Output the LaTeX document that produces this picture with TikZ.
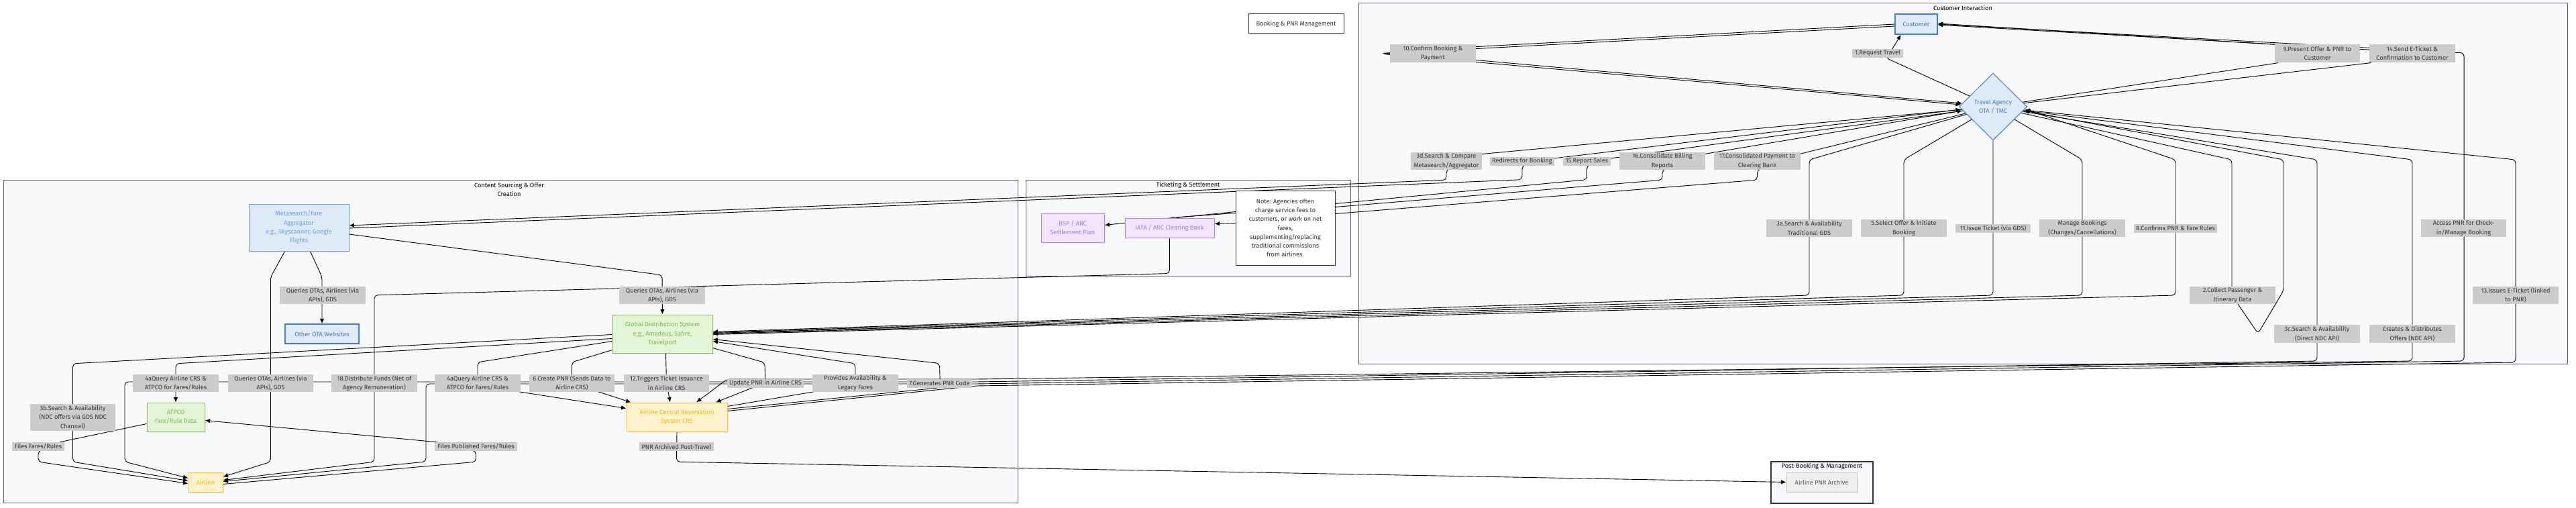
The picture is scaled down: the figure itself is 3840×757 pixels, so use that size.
\documentclass[tikz,border=0pt]{standalone}
\usepackage{fontspec}
\setmainfont{Fira Sans}
\usetikzlibrary{shapes.geometric,arrows.meta,calc,shadows}
\pgfdeclarelayer{clus}
\pgfdeclarelayer{edg}
\pgfsetlayers{clus,edg,main}
\definecolor{clfill}{HTML}{F8F9FB}
\definecolor{clline}{HTML}{5A5A6E}
\definecolor{lblfill}{HTML}{CCCCCC}
\definecolor{lbltext}{HTML}{333333}
\definecolor{bfill}{HTML}{DEEAF7}
\definecolor{bline}{HTML}{4C7CB8}
\definecolor{btext}{HTML}{4C7CB8}
\definecolor{mline}{HTML}{72A3E6}
\definecolor{mtext}{HTML}{6A9DE0}
\definecolor{gfill}{HTML}{E3F5D6}
\definecolor{gline}{HTML}{86C256}
\definecolor{gtext}{HTML}{7DB84C}
\definecolor{yfill}{HTML}{FFF2CC}
\definecolor{yline}{HTML}{FFC20E}
\definecolor{ytext}{HTML}{F5B700}
\definecolor{pfill}{HTML}{F1E4FD}
\definecolor{pline}{HTML}{B384EA}
\definecolor{ptext}{HTML}{A67BE6}
\definecolor{afill}{HTML}{EFEFEF}
\definecolor{aline}{HTML}{CCCCCC}
\definecolor{atext}{HTML}{555555}
\definecolor{dline}{HTML}{333344}
\newcommand\dgfont{\fontsize{9.2}{13.3}\selectfont}
\begin{document}
\begin{tikzpicture}[x=1pt,y=-1pt,font=\dgfont,
  nodebox/.style={draw, line width=1pt, inner sep=0pt, align=center,
    drop shadow={opacity=0.12, shadow xshift=1.5pt, shadow yshift=-1.5pt}},
  bluebox/.style={nodebox, fill=bfill, draw=bline, text=btext},
  metabox/.style={nodebox, fill=bfill, draw=mline, text=mtext},
  greenbox/.style={nodebox, fill=gfill, draw=gline, text=gtext},
  yellowbox/.style={nodebox, fill=yfill, draw=yline, text=ytext},
  purplebox/.style={nodebox, fill=pfill, draw=pline, text=ptext},
  archbox/.style={nodebox, fill=afill, draw=aline, text=atext},
  plainbox/.style={nodebox, fill=white, draw=dline, text=lbltext},
  lbl/.style={fill=lblfill, text=lbltext, inner sep=0pt, align=center},
  clusterbox/.style={fill=clfill, draw=clline, line width=1pt},
  ctitle/.style={text=black, align=center, inner sep=0pt},
  conn/.style={draw=black, line width=0.9pt, rounded corners=5pt},
  conna/.style={conn, -{Latex[length=7.5pt,width=6.5pt]}}]
\useasboundingbox (0,0) rectangle (3840,757);
\begin{pgfonlayer}{clus}
\fill[white] (0,0) rectangle (3840,757);
\draw[clusterbox] (5,268) rectangle (1517,749);
\draw[clusterbox] (1529,268) rectangle (2013,411);
\draw[clusterbox] (2025,5) rectangle (3827,542);
\draw[clusterbox, draw=dline, line width=1.2pt] (2640,688) rectangle (2792,750);
\end{pgfonlayer}
% cluster titles
\node[ctitle] (tCS) at (759,282.5) {Content Sourcing \& Offer\\Creation};
\node[ctitle] (tTS) at (1771,276) {Ticketing \& Settlement};
\node[ctitle] (tCI) at (2926,12) {Customer Interaction};
\node[ctitle] (tPB) at (2716,695) {Post-Booking \& Management};
% main nodes
\node[plainbox, minimum width=142, minimum height=29] (BPM) at (1932,35.5) {Booking \& PNR Management};
\node[bluebox, line width=1.5pt, minimum width=63, minimum height=30] (C) at (2856.5,36) {Customer};
\node[bluebox, diamond, aspect=1, minimum width=101, minimum height=100] (TA) at (2971,159) {Travel Agency\\OTA / TMC};
\node[metabox, minimum width=149, minimum height=70] (MS) at (445.5,339) {Metasearch/Fare\\Aggregator\\e.g., Skyscanner, Google\\Flights};
\node[bluebox, line width=1.5pt, minimum width=110, minimum height=29] (OTA) at (480,497.5) {Other OTA Websites};
\node[greenbox, minimum width=149, minimum height=57] (GDS) at (987.5,497.5) {Global Distribution System\\e.g., Amadeus, Sabre,\\Travelport};
\node[greenbox, minimum width=86, minimum height=43] (ATPCO) at (262,621.5) {ATPCO\\Fare/Rule Data};
\node[yellowbox, minimum width=51, minimum height=29] (AL) at (306.5,718.5) {Airline};
\node[yellowbox, minimum width=150, minimum height=43] (CRS) at (1009,621.5) {Airline Central Reservation\\System CRS};
\node[purplebox, minimum width=133, minimum height=29] (BANK) at (1743.5,339.5) {IATA / ARC Clearing Bank};
\node[purplebox, minimum width=94, minimum height=43] (BSP) at (1599,339.5) {BSP / ARC\\Settlement Plan};
\node[plainbox, minimum width=148, minimum height=111] (NOTE) at (1916,339.5) {Note: Agencies often\\charge service fees to\\customers, or work on net\\fares,\\supplementing/replacing\\traditional commissions\\from airlines.};
\node[archbox, minimum width=105, minimum height=29] (ARCH) at (2715.5,718.5) {Airline PNR Archive};
% edge labels: customer interaction
\node[lbl, minimum width=128, minimum height=27] (L10) at (2136,79.5) {10.Confirm Booking \&\\Payment};
\node[lbl, minimum width=76, minimum height=13] (L1) at (2799,79.5) {1.Request Travel};
\node[lbl, minimum width=127, minimum height=27] (L9) at (3454.5,79.5) {9.Present Offer \& PNR to\\Customer};
\node[lbl, minimum width=128, minimum height=27] (L14) at (3596,79.5) {14.Send E-Ticket \&\\Confirmation to Customer};
\node[lbl, minimum width=106, minimum height=26] (L3d) at (2156,240) {3d.Search \& Compare\\Metasearch/Aggregator};
\node[lbl, minimum width=96, minimum height=13] (LRed) at (2269,240) {Redirects for Booking};
\node[lbl, minimum width=71, minimum height=13] (L15) at (2365.5,240) {15.Report Sales};
\node[lbl, minimum width=128, minimum height=26] (L16) at (2478,240) {16.Consolidate Billing\\Reports};
\node[lbl, minimum width=129, minimum height=26] (L17) at (2619.5,240) {17.Consolidated Payment to\\Clearing Bank};
\node[lbl, minimum width=128, minimum height=26] (L3a) at (2697,340) {3a.Search \& Availability\\Traditional GDS};
\node[lbl, minimum width=128, minimum height=26] (L5) at (2838,340) {5.Select Offer \& Initiate\\Booking};
\node[lbl, minimum width=112, minimum height=13] (L11) at (2971,340) {11.Issue Ticket (via GDS)};
\node[lbl, minimum width=128, minimum height=26] (LMan) at (3104,340) {Manage Bookings\\(Changes/Cancellations)};
\node[lbl, minimum width=124, minimum height=13] (L8) at (3243,340) {8.Confirms PNR \& Fare Rules};
\node[lbl, minimum width=128, minimum height=26] (L2) at (3328,440) {2.Collect Passenger \&\\Itinerary Data};
\node[lbl, minimum width=128, minimum height=27] (L3c) at (3454,497.5) {3c.Search \& Availability\\(Direct NDC API)};
\node[lbl, minimum width=128, minimum height=27] (LCre) at (3596,497.5) {Creates \& Distributes\\Offers (NDC API)};
\node[lbl, minimum width=127, minimum height=26] (LAcc) at (3672.5,340) {Access PNR for Check-\\in/Manage Booking};
\node[lbl, minimum width=128, minimum height=26] (L13) at (3750,440) {13.Issues E-Ticket (linked\\to PNR)};
% edge labels: content sourcing
\node[lbl, minimum width=128, minimum height=26] (LQ1) at (481,440) {Queries OTAs, Airlines (via\\APIs), GDS};
\node[lbl, minimum width=128, minimum height=26] (LQ2) at (987,440) {Queries OTAs, Airlines (via\\APIs), GDS};
\node[lbl, minimum width=127, minimum height=26] (LQ3) at (403.5,571) {Queries OTAs, Airlines (via\\APIs), GDS};
\node[lbl, minimum width=128, minimum height=26] (L4a1) at (262,571) {4aQuery Airline CRS \&\\ATPCO for Fares/Rules};
\node[lbl, minimum width=128, minimum height=26] (L18) at (558,571) {18.Distribute Funds (Net of\\Agency Remuneration)};
\node[lbl, minimum width=128, minimum height=26] (L4a2) at (712,571) {4aQuery Airline CRS \&\\ATPCO for Fares/Rules};
\node[lbl, minimum width=127, minimum height=26] (L6) at (852.5,571) {6.Create PNR (Sends Data to\\Airline CRS)};
\node[lbl, minimum width=127, minimum height=26] (L12) at (993.5,571) {12.Triggers Ticket Issuance\\in Airline CRS};
\node[lbl, minimum width=114, minimum height=13] (LUpd) at (1141,571) {Update PNR in Airline CRS};
\node[lbl, minimum width=128, minimum height=26] (LProv) at (1275,571) {Provides Availability \&\\Legacy Fares};
\node[lbl, minimum width=97, minimum height=13] (L7) at (1400.5,571) {7.Generates PNR Code};
\node[lbl, minimum width=127, minimum height=40] (L3b) at (108.5,622) {3b.Search \& Availability\\(NDC offers via GDS NDC\\Channel)};
\node[lbl, minimum width=78, minimum height=13] (LFF) at (57,665.5) {Files Fares/Rules};
\node[lbl, minimum width=123, minimum height=13] (LFP) at (709.5,665.5) {Files Published Fares/Rules};
\node[lbl, minimum width=111, minimum height=13] (LPNR) at (1008.5,665.5) {PNR Archived Post-Travel};
% connectors
\begin{pgfonlayer}{edg}
% customer
\draw[conna] (TA) -- ($(L1.south)+(12,0)$) -- ($(L1.north)+(22,0)$) -- ($(C.south)+(-23,0)$);
\draw[conna] (C.west) -- ($(L10.north east)+(-4,4)$) -- ($(L10.west)+(-12,0)$) -- ($(L10.south east)+(-4,-4)$) -- ($(TA.west)+(5,-5)$);
\draw[conna] ($(C.west)+(0,3)$) -- ($(L10.north east)+(-4,7)$) -- ($(L10.west)+(-10,1)$) -- ($(L10.south east)+(-4,-1)$) -- ($(TA.west)+(3,-3)$);
\draw[conna] (TA) -- ($(L9.south west)+(8,0)$) -- ($(L9.north west)+(8,1)$) -- ($(C.east)+(0,-1)$);
\draw[conna] (TA) -- ($(L14.south west)+(6,0)$) -- ($(L14.west)+(6,-5)$) -- ($(C.east)+(0,1)$);
\draw[conna] (C.east) -- ($(L14.east)+(0,-1)$) -- (3673,78.5) -- (3673,538) -- (1455,572) -- (635,572) -- (635,688) -- ($(AL.east)+(0,-1)$);
% to metasearch and settlement
\draw[conna] (TA) -- ($(L3d.north east)+(-3,3)$) -- (L3d.south) -- ($(L3d.south)+(0,15)$) -- ($(MS.east)+(0,-3)$);
\draw[conna] ($(MS.east)+(0,1)$) -- ($(LRed.south)+(0,21)$) -- (LRed.south) -- ($(LRed.north east)+(-3,3)$) -- ($(TA.west)+(3,4)$);
\draw[conna] (TA) -- ($(L15.north east)+(-3,3)$) -- (L15.south) -- ($(L15.south)+(0,21)$) -- ($(NOTE.east)+(0,-36)$) -- ($(NOTE.west)+(0,-22)$) -- ($(BANK.north)+(14,-1)$) -- ($(BSP.east)+(0,-4)$);
\draw[conna] ($(BANK.north)+(10,0)$) -- ($(NOTE.west)+(0,-24)$) -- ($(NOTE.east)+(0,-31)$) -- ($(L16.south)+(0,15)$) -- (L16.south) -- ($(L16.north east)+(-3,3)$) -- ($(TA.west)+(5,6)$);
\draw[conna] (TA) -- ($(L17.north east)+(-3,3)$) -- (L17.south) -- ($(L17.south)+(0,15)$) -- ($(NOTE.east)+(0,-21)$) -- ($(NOTE.west)+(0,-7)$) -- ($(BANK.east)+(0,-6)$);
% to GDS
\draw[conna] (TA) -- (2697,238) -- (2697,440) -- ($(GDS.east)+(0,-3)$);
\draw[conna] (TA) -- (2838,238) -- (2838,440) -- ($(GDS.east)+(0,-2)$);
\draw[conna] (TA.south) -- (2971,440) -- ($(GDS.east)+(0,-1)$);
\draw[conna] (TA) -- (3104,238) -- (3104,440) -- (GDS.east);
\draw[conna] ($(GDS.east)+(0,1)$) -- (3243,440) -- (3243,238) -- ($(TA.east)+(-3,4)$);
% self loop
\draw[conna] (TA) -- (3327,238) -- (3327,440) -- (3366,497) -- (3404,433) -- (3404,238) -- ($(TA.east)+(-5,6)$);
% bundle
\draw[conna] (TA) -- (3454,238) -- (3454,538) -- (1455,569) -- (186,569) -- (186,688) -- ($(AL.west)+(0,-6)$);
\draw[conna] (TA) -- (3596,238) -- (3596,538) -- (1455,565) -- (1084,565) -- ($(CRS.north)+(29,0)$);
\draw[conna] ($(CRS.east)+(0,-9)$) -- (1455,575) -- (3750,540) -- (3750,238) -- ($(TA.east)+(-4,5)$);
% GDS / CRS
\draw[conna] ($(CRS.east)+(0,-12)$) -- ($(L7.south)+(1,0)$) -- ($(L7.north)+(0,-23)$) -- ($(GDS.east)+(0,8)$);
\draw[conna] ($(CRS.east)+(0,-16)$) -- (LProv.south west) -- (LProv.center) -- ($(LProv.north)+(0,-16)$) -- ($(GDS.east)+(0,11)$);
\draw[conna] ($(GDS.east)+(0,21)$) -- ($(LUpd.north)+(-1,-24)$) -- (LUpd.center) -- ($(LUpd.south)+(-19,0)$) -- ($(CRS.north)+(58,0)$);
\draw[conna] ($(GDS.south)+(5,0)$) -- (L12.center) -- ($(CRS.north)+(-10,0)$);
\draw[conna] ($(GDS.west)+(0,24)$) -- ($(L6.north)+(0,-18)$) -- (L6.center) -- ($(L6.south east)+(-23,0)$) -- ($(CRS.north west)+(7,0)$);
\draw[conna] ($(GDS.west)+(0,11)$) -- ($(L4a2.north)+(0,-18)$) -- (L4a2.center) -- (L4a2.south east) -- ($(CRS.west)+(0,-13)$);
\draw[conna] ($(GDS.west)+(0,7)$) -- ($(L4a1.north)+(0,-16)$) -- (ATPCO.north);
\draw[conna] ($(GDS.west)+(0,1)$) -- ($(L3b.north)+(0,-60)$) -- ($(L3b.south)+(0,46)$) -- ($(AL.west)+(0,-2)$);
% settlement funds
\draw[conna] (BANK.south) -- ($(BANK.south)+(0,53)$) -- ($(L18.north)+(0,-118)$) -- ($(L18.south)+(0,104)$) -- ($(AL.east)+(0,-3)$);
% metasearch
\draw[conna] ($(MS.south)+(17,0)$) -- ($(LQ1.north)+(-1,-14)$) -- (OTA.north);
\draw[conna] ($(MS.south)+(-21,0)$) -- ($(LQ3.north)+(0,-145)$) -- ($(LQ3.south)+(0,104)$) -- ($(AL.east)+(0,-8)$);
\draw[conna] ($(MS.east)+(0,10)$) -- ($(LQ2.north)+(0,-17)$) -- (GDS.north);
% fares
\draw[conna] ($(ATPCO.west)+(0,10)$) -- ($(LFF.north east)+(-7,0)$) -- (LFF.south) -- ($(LFF.south)+(0,16)$) -- ($(AL.west)+(0,2)$);
\draw[conna] ($(AL.east)+(0,3)$) -- ($(LFP.south)+(0,16)$) -- (LFP.south) -- ($(LFP.north west)+(4,0)$) -- ($(ATPCO.east)+(0,5)$);
% archive
\draw[conna] (CRS.south) -- ($(LPNR.south)+(0,16)$) -- (ARCH.west);
\end{pgfonlayer}
\end{tikzpicture}
\end{document}
